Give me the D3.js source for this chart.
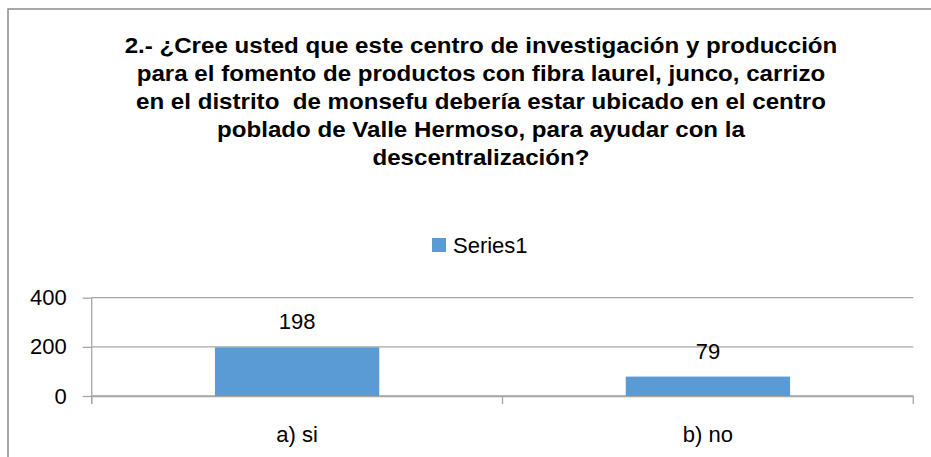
<!DOCTYPE html>
<html>
<head>
<meta charset="utf-8">
<script src="https://cdnjs.cloudflare.com/ajax/libs/d3/7.8.5/d3.min.js"></script>
<style>
  body { margin: 0; background: #fff; }
  svg text { font-family: "Liberation Sans", Arial, sans-serif; fill: #000; }
</style>
</head>
<body>
<div id="chart"></div>
<script>
// data
const categories = ["a) si", "b) no"];
const values = [198, 79];
const seriesName = "Series1";
const yTicks = [0, 200, 400];
const titleLines = [
    "2.- ¿Cree usted que este centro de investigación y producción",
    "para el fomento de productos con fibra laurel, junco, carrizo",
    "en el distrito  de monsefu debería estar ubicado en el centro",
    "poblado de Valle Hermoso, para ayudar con la",
    "descentralización?"
];

const svgWidth = 931, svgHeight = 457;
const margin = {top: 297.7, right: 17.7, bottom: 61, left: 91.7};
const chartWidth = svgWidth - margin.left - margin.right;
const chartHeight = svgHeight - margin.top - margin.bottom;

const svg = d3.select("#chart").append("svg")
    .attr("width", svgWidth)
    .attr("height", svgHeight);

// outer chart border (runs off the image on the right/bottom)
svg.append("rect")
    .attr("x", 8).attr("y", 9)
    .attr("width", 940).attr("height", 470)
    .attr("fill", "none")
    .attr("stroke", "#8c8c8c")
    .attr("stroke-width", 1.5);

// title, a bit condensed horizontally to look like the narrow original face
const titleCenter = 481;
const title = svg.append("text")
    .attr("text-anchor", "middle")
    .style("font-weight", "bold")
    .style("font-size", "22.5px");
title.selectAll("tspan")
    .data(titleLines)
    .enter()
    .append("tspan")
    .attr("x", titleCenter)
    .attr("y", (d, i) => 53 + i * 28)
    .style("white-space", "pre")
    .text(d => d);
const w0 = title.select("tspan").node().getComputedTextLength();
const sx = 713 / w0;
title.attr("transform", `translate(${titleCenter},0) scale(${sx},1) translate(${-titleCenter},0)`);

// legend
const legend = svg.append("g").attr("transform", "translate(432, 238)");
legend.append("rect")
    .attr("width", 14).attr("height", 14)
    .attr("fill", "#5b9bd5");
legend.append("text")
    .attr("x", 21).attr("y", 14.5)
    .style("font-size", "22px")
    .text(seriesName);

const chartGroup = svg.append("g")
    .attr("transform", `translate(${margin.left}, ${margin.top})`);

const xBandScale = d3.scaleBand()
    .domain(categories)
    .range([0, chartWidth])
    .padding(0);

const yLinearScale = d3.scaleLinear()
    .domain([0, 400])
    .range([chartHeight, 0]);

// gridlines
chartGroup.selectAll(".grid")
    .data(yTicks)
    .enter()
    .append("line")
    .attr("x1", 0).attr("x2", chartWidth)
    .attr("y1", d => yLinearScale(d))
    .attr("y2", d => yLinearScale(d))
    .attr("stroke", "#a6a6a6")
    .attr("stroke-width", 1.3);

// y axis
const leftAxis = d3.axisLeft(yLinearScale).tickValues(yTicks).tickSize(9).tickPadding(16);
const yAxis = chartGroup.append("g").call(leftAxis);
yAxis.select(".domain").remove();
yAxis.append("line")
    .attr("x1", 0).attr("x2", 0)
    .attr("y1", 0).attr("y2", chartHeight + 8)
    .attr("stroke", "#a6a6a6").attr("stroke-width", 1.3);
yAxis.selectAll(".tick line").attr("stroke", "#a6a6a6").attr("stroke-width", 1.3);
yAxis.selectAll(".tick text")
    .style("font-size", "22px")
    .style("font-family", "'Liberation Sans', Arial, sans-serif")
    .attr("fill", "#000");

// x axis: labels at band centres, ticks at category boundaries
const bottomAxis = d3.axisBottom(xBandScale).tickSize(0).tickPadding(30);
const xAxis = chartGroup.append("g")
    .attr("transform", `translate(0, ${chartHeight})`)
    .call(bottomAxis);
xAxis.select(".domain").attr("stroke", "#a6a6a6").attr("stroke-width", 1.3);
xAxis.selectAll(".tick text")
    .style("font-size", "22px")
    .style("font-family", "'Liberation Sans', Arial, sans-serif")
    .attr("fill", "#000");
const bounds = categories.map(c => xBandScale(c)).concat([chartWidth]);
xAxis.selectAll(".bound")
    .data(bounds)
    .enter()
    .append("line")
    .attr("x1", d => d).attr("x2", d => d)
    .attr("y1", 0).attr("y2", 8)
    .attr("stroke", "#a6a6a6").attr("stroke-width", 1.3);

// bars
const barWidth = xBandScale.bandwidth() * 0.4;
chartGroup.selectAll(".bar")
    .data(values)
    .enter()
    .append("rect")
    .attr("x", (d, i) => xBandScale(categories[i]) + (xBandScale.bandwidth() - barWidth) / 2)
    .attr("y", d => yLinearScale(d))
    .attr("width", barWidth)
    .attr("height", d => chartHeight - yLinearScale(d))
    .attr("fill", "#5b9bd5");

// data labels
chartGroup.selectAll(".value")
    .data(values)
    .enter()
    .append("text")
    .attr("text-anchor", "middle")
    .attr("x", (d, i) => xBandScale(categories[i]) + xBandScale.bandwidth() / 2)
    .attr("y", d => yLinearScale(d) - 18)
    .style("font-size", "22px")
    .text(d => d);
</script>
</body>
</html>
